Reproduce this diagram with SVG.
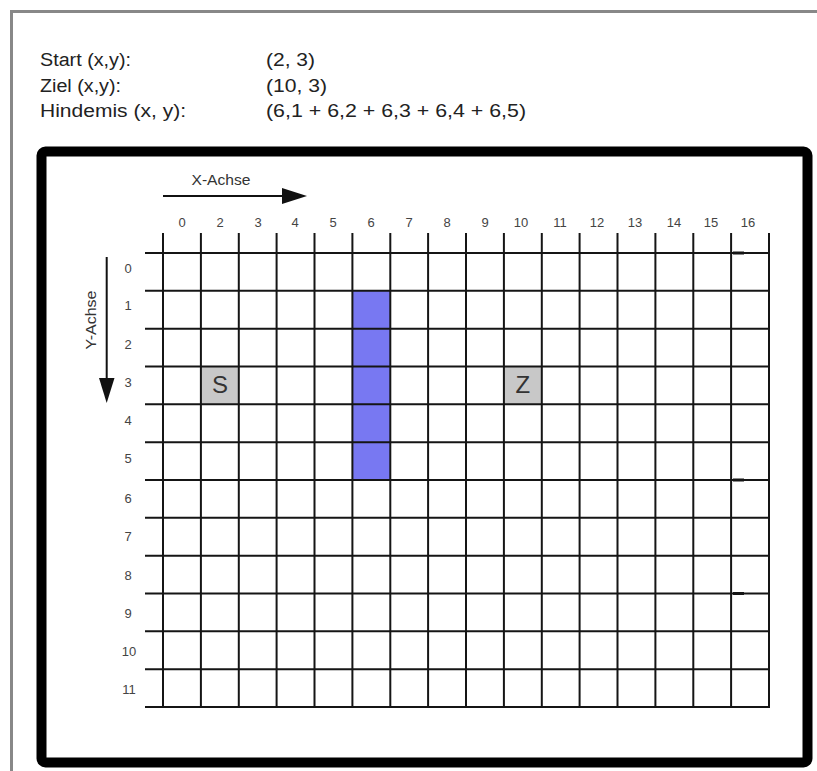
<svg xmlns="http://www.w3.org/2000/svg" width="817" height="771" viewBox="0 0 817 771">
<defs>
<style>
.hdr{font-family:"Liberation Sans",Arial,sans-serif;font-size:18px;fill:#222}
.lbl{font-family:"Liberation Sans",Arial,sans-serif;font-size:13px;fill:#444;text-anchor:middle}
.ax{font-family:"Liberation Sans",Arial,sans-serif;font-size:14px;fill:#333;text-anchor:middle}
.big{font-family:"Liberation Sans",Arial,sans-serif;font-size:24px;fill:#333;text-anchor:middle}
.g line{stroke:#151515;stroke-width:2}
.axis{stroke:#111;stroke-width:2;fill:none}
</style>
</defs>
<rect width="817" height="771" fill="#fff"/>
<g id="page-frame">
<line x1="10" y1="11.5" x2="817" y2="11.5" stroke="#888" stroke-width="3"/>
<line x1="11.5" y1="10" x2="11.5" y2="771" stroke="#888" stroke-width="3"/>
</g>
<g id="header">
<text class="hdr" x="40" y="66" textLength="91" lengthAdjust="spacingAndGlyphs">Start (x,y):</text>
<text class="hdr" x="40" y="92" textLength="81" lengthAdjust="spacingAndGlyphs">Ziel (x,y):</text>
<text class="hdr" x="40" y="117" textLength="146" lengthAdjust="spacingAndGlyphs">Hindemis (x, y):</text>
<text class="hdr" x="266" y="66" textLength="49" lengthAdjust="spacingAndGlyphs">(2, 3)</text>
<text class="hdr" x="266" y="92" textLength="61" lengthAdjust="spacingAndGlyphs">(10, 3)</text>
<text class="hdr" x="266" y="117" textLength="260" lengthAdjust="spacingAndGlyphs">(6,1 + 6,2 + 6,3 + 6,4 + 6,5)</text>
</g>
<g id="board-frame">
<rect x="41.5" y="151.5" width="766" height="611" rx="4" fill="none" stroke="#000" stroke-width="10"/>
</g>
<g id="start-cell">
<rect x="200.9" y="366.5" width="37.9" height="37.8" fill="#c8c8c8"/>
<text class="big" x="220" y="393">S</text>
</g>
<g id="goal-cell">
<rect x="503.9" y="366.5" width="37.9" height="37.8" fill="#c8c8c8"/>
<text class="big" x="522.8" y="393">Z</text>
</g>
<g id="obstacle">
<rect x="352.4" y="290.8" width="37.9" height="189.2" fill="#7878f2"/>
</g>
<g id="grid" class="g">
<line x1="145" y1="253" x2="770" y2="253"/>
<line x1="145" y1="290.8" x2="770" y2="290.8"/>
<line x1="145" y1="328.7" x2="770" y2="328.7"/>
<line x1="145" y1="366.5" x2="770" y2="366.5"/>
<line x1="145" y1="404.3" x2="770" y2="404.3"/>
<line x1="145" y1="442.2" x2="770" y2="442.2"/>
<line x1="145" y1="480" x2="770" y2="480"/>
<line x1="145" y1="517.8" x2="770" y2="517.8"/>
<line x1="145" y1="555.7" x2="770" y2="555.7"/>
<line x1="145" y1="593.5" x2="770" y2="593.5"/>
<line x1="145" y1="631.3" x2="770" y2="631.3"/>
<line x1="145" y1="669.2" x2="770" y2="669.2"/>
<line x1="145" y1="707" x2="770" y2="707"/>
<line x1="163" y1="233" x2="163" y2="708"/>
<line x1="200.9" y1="233" x2="200.9" y2="708"/>
<line x1="238.8" y1="233" x2="238.8" y2="708"/>
<line x1="276.6" y1="233" x2="276.6" y2="708"/>
<line x1="314.5" y1="233" x2="314.5" y2="708"/>
<line x1="352.4" y1="233" x2="352.4" y2="708"/>
<line x1="390.3" y1="233" x2="390.3" y2="708"/>
<line x1="428.1" y1="233" x2="428.1" y2="708"/>
<line x1="466" y1="233" x2="466" y2="708"/>
<line x1="503.9" y1="233" x2="503.9" y2="708"/>
<line x1="541.8" y1="233" x2="541.8" y2="708"/>
<line x1="579.6" y1="233" x2="579.6" y2="708"/>
<line x1="617.5" y1="233" x2="617.5" y2="708"/>
<line x1="655.4" y1="233" x2="655.4" y2="708"/>
<line x1="693.3" y1="233" x2="693.3" y2="708"/>
<line x1="731.1" y1="233" x2="731.1" y2="708"/>
<line x1="769" y1="233" x2="769" y2="708"/>
<line x1="733" y1="253" x2="744" y2="253" style="stroke-width:3"/>
<line x1="733" y1="480" x2="744" y2="480" style="stroke-width:3"/>
<line x1="733" y1="593.5" x2="744" y2="593.5" style="stroke-width:3"/>
</g>
<g id="col-labels">
<text class="lbl" x="182" y="227">0</text>
<text class="lbl" x="220" y="227">2</text>
<text class="lbl" x="258" y="227">3</text>
<text class="lbl" x="295" y="227">4</text>
<text class="lbl" x="333" y="227">5</text>
<text class="lbl" x="371" y="227">6</text>
<text class="lbl" x="409" y="227">7</text>
<text class="lbl" x="447" y="227">8</text>
<text class="lbl" x="485" y="227">9</text>
<text class="lbl" x="521" y="227">10</text>
<text class="lbl" x="560" y="227">11</text>
<text class="lbl" x="597" y="227">12</text>
<text class="lbl" x="635" y="227">13</text>
<text class="lbl" x="674" y="227">14</text>
<text class="lbl" x="711" y="227">15</text>
<text class="lbl" x="748" y="227">16</text>
</g>
<g id="row-labels">
<text class="lbl" x="128" y="273">0</text>
<text class="lbl" x="128" y="310">1</text>
<text class="lbl" x="128" y="349">2</text>
<text class="lbl" x="128" y="387">3</text>
<text class="lbl" x="128" y="425">4</text>
<text class="lbl" x="128" y="463">5</text>
<text class="lbl" x="128" y="503">6</text>
<text class="lbl" x="128" y="541">7</text>
<text class="lbl" x="128" y="580">8</text>
<text class="lbl" x="128" y="618">9</text>
<text class="lbl" x="129" y="656">10</text>
<text class="lbl" x="129" y="694">11</text>
</g>
<g id="connectors">
<g id="x-axis">
<text class="ax" x="221" y="185" textLength="59" lengthAdjust="spacingAndGlyphs">X-Achse</text>
<line class="axis" x1="163" y1="196" x2="284" y2="196"/>
<polygon points="282,188 307,196 282,204" fill="#111"/>
</g>
<g id="y-axis">
<text class="ax" transform="translate(96,320) rotate(-90)" x="0" y="0" textLength="59" lengthAdjust="spacingAndGlyphs">Y-Achse</text>
<line class="axis" x1="106.7" y1="257" x2="106.7" y2="380"/>
<polygon points="99,378 114.5,378 106.7,403" fill="#111"/>
</g>
</g>
</svg>
